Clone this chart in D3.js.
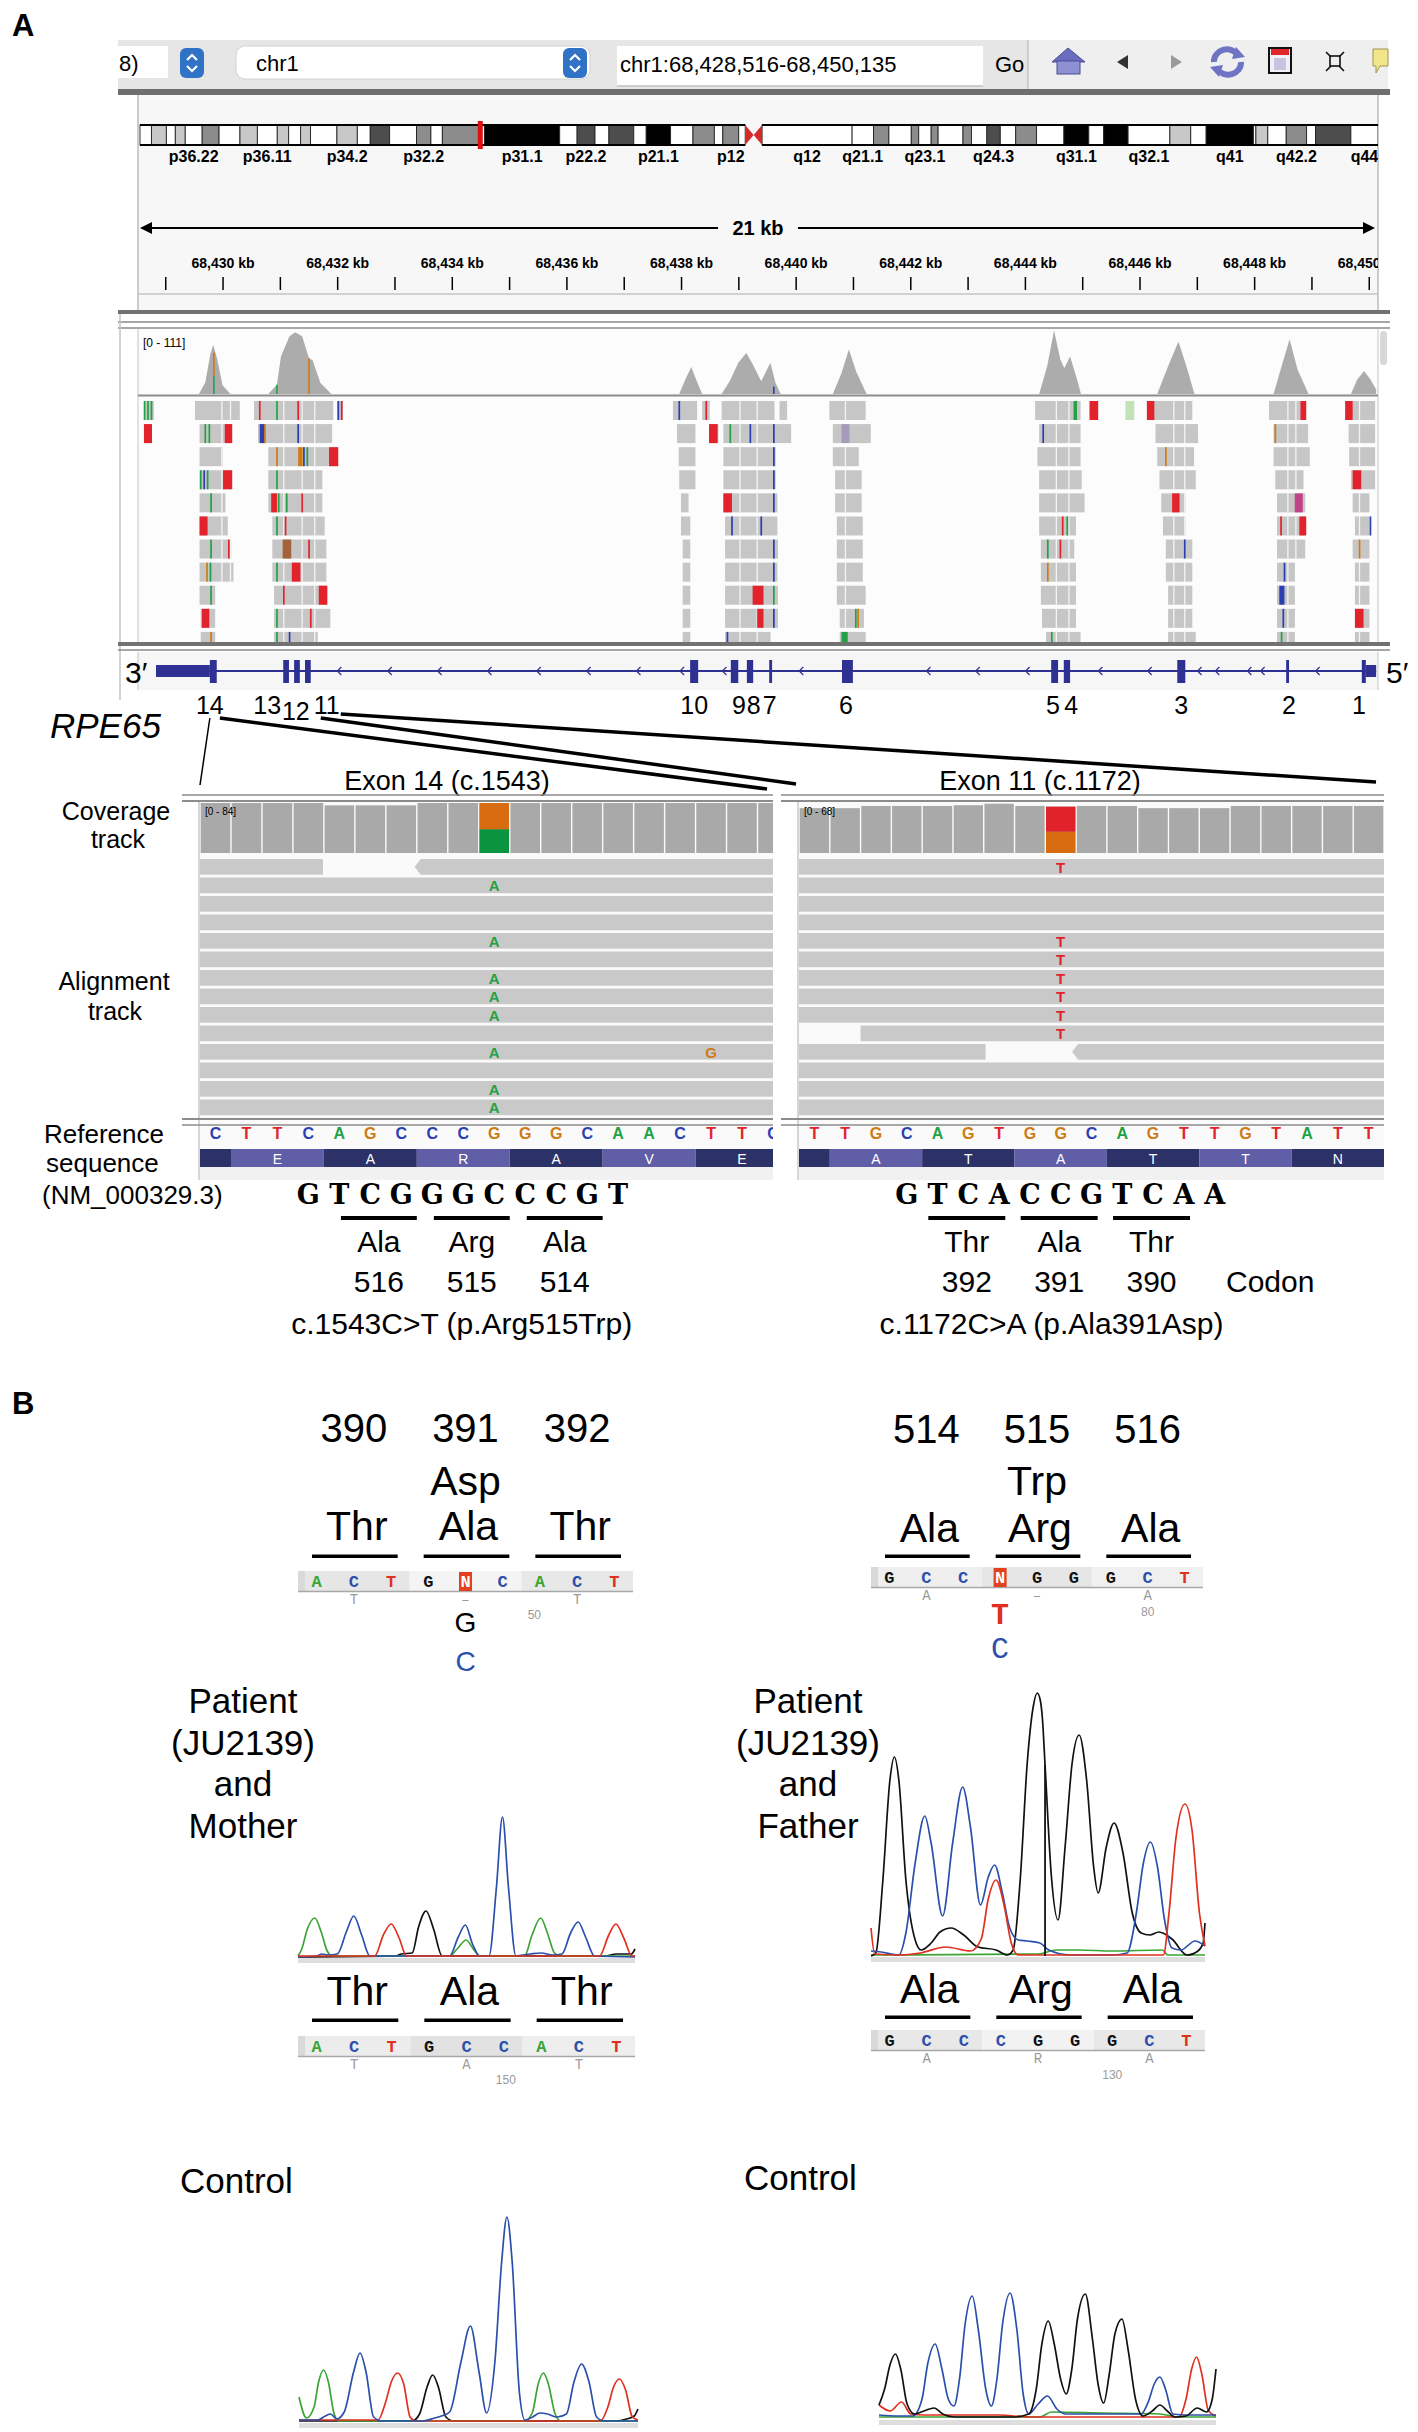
<!DOCTYPE html>
<html>
<head>
<meta charset="utf-8">
<title>RPE65 variants</title>
<script src="https://d3js.org/d3.v7.min.js"></script>
<style>
  body { margin: 0; background: #fff; }
  svg text { font-family: "Liberation Sans", Arial, sans-serif; }
</style>
</head>
<body>
<svg id="fig"></svg>
<script>
// Define figure dimensions
var svgWidth = 1418;
var svgHeight = 2432;

// ---------- IGV locus (kb) ----------
var locusStart = 68428.516;
var locusEnd = 68450.135;
var locusText = "chr1:68,428,516-68,450,135";
var rulerLabels = [68430, 68432, 68434, 68436, 68438, 68440, 68442, 68444, 68446, 68448, 68450];
var rulerTicks = [68429, 68430, 68431, 68432, 68433, 68434, 68435, 68436, 68437, 68438, 68439,
  68440, 68441, 68442, 68443, 68444, 68445, 68446, 68447, 68448, 68449, 68450];

// chr1 cytobands [name, start Mb, end Mb, stain]
var chr1Length = 248.956;
var cytobands = [
  ["p36.33",0,2.3,"gneg"],["p36.32",2.3,5.3,"gpos25"],["p36.31",5.3,7.1,"gneg"],["p36.23",7.1,9.1,"gpos25"],
  ["p36.22",9.1,12.5,"gneg"],["p36.21",12.5,15.9,"gpos50"],["p36.13",15.9,20.1,"gneg"],["p36.12",20.1,23.6,"gpos25"],
  ["p36.11",23.6,27.6,"gneg"],["p35.3",27.6,29.9,"gpos25"],["p35.2",29.9,32.3,"gneg"],["p35.1",32.3,34.3,"gpos25"],
  ["p34.3",34.3,39.6,"gneg"],["p34.2",39.6,43.7,"gpos25"],["p34.1",43.7,46.3,"gneg"],["p33",46.3,50.2,"gpos75"],
  ["p32.3",50.2,55.6,"gneg"],["p32.2",55.6,58.5,"gpos50"],["p32.1",58.5,60.8,"gneg"],["p31.3",60.8,68.5,"gpos50"],
  ["p31.2",68.5,69.3,"gneg"],["p31.1",69.3,84.4,"gpos100"],["p22.3",84.4,87.9,"gneg"],["p22.2",87.9,91.5,"gpos75"],
  ["p22.1",91.5,94.3,"gneg"],["p21.3",94.3,99.3,"gpos75"],["p21.2",99.3,101.8,"gneg"],["p21.1",101.8,106.7,"gpos100"],
  ["p13.3",106.7,111.2,"gneg"],["p13.2",111.2,115.5,"gpos50"],["p13.1",115.5,117.2,"gneg"],["p12",117.2,120.4,"gpos50"],
  ["p11.2",120.4,121.7,"gneg"],["p11.1",121.7,123.4,"acen"],["q11",123.4,125.1,"acen"],["q12",125.1,143.2,"gvar"],
  ["q21.1",143.2,147.5,"gneg"],["q21.2",147.5,150.6,"gpos50"],["q21.3",150.6,155.1,"gneg"],["q22",155.1,156.6,"gpos50"],
  ["q23.1",156.6,159.1,"gneg"],["q23.2",159.1,160.5,"gpos50"],["q23.3",160.5,165.5,"gneg"],["q24.1",165.5,167.2,"gpos50"],
  ["q24.2",167.2,170.3,"gneg"],["q24.3",170.3,173.0,"gpos75"],["q25.1",173.0,176.1,"gneg"],["q25.2",176.1,180.3,"gpos50"],
  ["q25.3",180.3,185.8,"gneg"],["q31.1",185.8,190.8,"gpos100"],["q31.2",190.8,193.8,"gneg"],["q31.3",193.8,198.7,"gpos100"],
  ["q32.1",198.7,207.1,"gneg"],["q32.2",207.1,211.3,"gpos25"],["q32.3",211.3,214.4,"gneg"],["q41",214.4,223.9,"gpos100"],
  ["q42.11",223.9,224.4,"gneg"],["q42.12",224.4,226.8,"gpos25"],["q42.13",226.8,230.5,"gneg"],["q42.2",230.5,234.6,"gpos50"],
  ["q42.3",234.6,236.4,"gneg"],["q43",236.4,243.5,"gpos75"],["q44",243.5,248.956,"gneg"]
];
var bandLabels = ["p36.22","p36.11","p34.2","p32.2","p31.1","p22.2","p21.1","p12","q12","q21.1",
  "q23.1","q24.3","q31.1","q32.1","q41","q42.2","q44"];

// coverage track peaks [kb, depth]
var coverageMax = 111;
var coveragePeaks = [
  [[68429.58,0],[68429.69,20],[68429.78,70],[68429.83,85],[68429.90,60],[68429.99,15],[68430.13,0]],
  [[68430.79,0],[68430.94,16],[68431.01,65],[68431.16,100],[68431.26,107],[68431.38,100],[68431.50,62],[68431.56,59],[68431.70,19],[68431.89,0]],
  [[68437.96,0],[68438.07,26],[68438.17,47],[68438.26,24],[68438.36,0]],
  [[68438.70,0],[68438.84,22],[68438.99,54],[68439.13,71],[68439.24,52],[68439.39,22],[68439.55,54],[68439.64,19],[68439.73,0]],
  [[68440.64,0],[68440.79,36],[68440.92,77],[68441.05,38],[68441.23,0]],
  [[68444.24,0],[68444.38,48],[68444.50,110],[68444.61,60],[68444.68,45],[68444.78,65],[68444.90,26],[68444.97,0]],
  [[68446.30,0],[68446.49,48],[68446.67,91],[68446.81,48],[68446.95,0]],
  [[68448.33,0],[68448.47,48],[68448.61,95],[68448.75,42],[68448.94,0]],
  [[68449.68,0],[68449.79,25],[68449.91,40],[68450.02,25],[68450.12,8]]
];
// allele-coloured coverage lines [kb, base, fromDepth, toDepth]
var coverageAlleles = [[68429.84,"G",72,31],[68429.84,"A",31,0],[68430.94,"A",16,0],[68431.50,"G",62,0],[68439.61,"C",13,0]];

// alignment rows: read blocks [startKb, endKb]
var readRows = [
  [[68428.62,68428.81],[68429.51,68430.31],[68430.54,68431.94],[68431.99,68432.11],[68437.85,68438.29],[68438.36,68438.51],[68438.70,68439.64],[68439.71,68439.86],[68440.58,68441.23],[68444.17,68444.98],[68445.12,68445.27],[68445.75,68445.90],[68446.12,68446.93],[68448.25,68448.90],[68449.58,68450.12]],
  [[68428.62,68428.76],[68429.59,68430.16],[68430.61,68431.92],[68437.92,68438.26],[68438.48,68438.66],[68438.73,68439.93],[68440.64,68441.32],[68444.24,68444.98],[68446.27,68447.03],[68448.33,68448.95],[68449.64,68450.12]],
  [[68429.59,68430.01],[68430.79,68432.01],[68437.95,68438.26],[68438.73,68439.66],[68440.64,68441.11],[68444.21,68444.98],[68446.30,68446.96],[68448.33,68448.98],[68449.65,68450.12]],
  [[68429.59,68430.16],[68430.79,68431.75],[68437.96,68438.26],[68438.73,68439.66],[68440.68,68441.16],[68444.24,68445.00],[68446.34,68446.99],[68448.36,68448.87],[68449.68,68450.12]],
  [[68429.59,68430.06],[68430.79,68431.75],[68437.99,68438.14],[68438.73,68439.69],[68440.68,68441.16],[68444.24,68445.05],[68446.37,68446.81],[68448.39,68448.90],[68449.71,68450.02]],
  [[68429.59,68430.10],[68430.86,68431.79],[68437.99,68438.17],[68438.76,68439.69],[68440.71,68441.18],[68444.24,68444.90],[68446.40,68446.81],[68448.39,68448.90],[68449.75,68450.02]],
  [[68429.59,68430.16],[68430.86,68431.82],[68438.02,68438.17],[68438.76,68439.70],[68440.71,68441.18],[68444.27,68444.87],[68446.45,68446.93],[68448.39,68448.90],[68449.71,68450.02]],
  [[68429.59,68430.20],[68430.86,68431.82],[68438.02,68438.17],[68438.76,68439.69],[68440.71,68441.18],[68444.27,68444.90],[68446.45,68446.93],[68448.39,68448.72],[68449.75,68450.02]],
  [[68429.59,68429.88],[68430.89,68431.82],[68438.02,68438.17],[68438.76,68439.70],[68440.71,68441.23],[68444.27,68444.90],[68446.49,68446.93],[68448.39,68448.72],[68449.75,68450.02]],
  [[68429.61,68429.88],[68430.89,68431.89],[68438.02,68438.17],[68438.76,68439.70],[68440.76,68441.20],[68444.29,68444.90],[68446.49,68446.93],[68448.39,68448.72],[68449.75,68450.02]],
  [[68429.61,68429.88],[68430.89,68431.67],[68438.02,68438.17],[68438.76,68439.57],[68440.76,68441.23],[68444.36,68444.98],[68446.49,68446.99],[68448.39,68448.72],[68449.75,68450.02]]
];
var readSeparators = [68429.98, 68430.13, 68431.06, 68431.38, 68431.60, 68439.02, 68439.32, 68440.86,
  68444.54, 68444.76, 68446.59, 68446.78, 68448.58, 68448.72, 68449.83];
// mismatches [row, startKb, endKb (null = single base), base]
var readMismatches = [
  [0,68428.63,null,"A"],[0,68428.69,null,"A"],[0,68428.75,null,"A"],[0,68430.64,null,"T"],[0,68430.94,null,"A"],
  [0,68431.31,null,"T"],[0,68432.01,null,"C"],[0,68432.07,null,"T"],[0,68437.96,null,"C"],[0,68438.43,null,"T"],
  [0,68444.84,68444.90,"A"],[0,68445.12,68445.27,"T"],[0,68445.75,68445.90,"a"],[0,68446.12,68446.25,"T"],
  [0,68448.80,68448.90,"T"],[0,68449.58,68449.71,"T"],
  [1,68428.62,68428.76,"T"],[1,68429.69,null,"A"],[1,68429.76,null,"A"],[1,68430.03,68430.16,"T"],[1,68430.64,68430.73,"C"],
  [1,68430.73,null,"G"],[1,68431.31,null,"C"],[1,68438.48,68438.63,"T"],[1,68438.85,null,"A"],[1,68439.20,null,"C"],
  [1,68439.61,null,"C"],[1,68440.79,68440.93,"c"],[1,68444.31,null,"C"],[1,68448.36,null,"G"],
  [2,68430.94,null,"G"],[2,68431.31,68431.39,"G"],[2,68431.41,null,"C"],[2,68431.47,null,"A"],[2,68431.85,68432.01,"T"],
  [2,68439.61,null,"C"],[2,68446.45,null,"G"],
  [3,68429.61,null,"A"],[3,68429.67,null,"C"],[3,68429.73,null,"A"],[3,68430.00,68430.16,"T"],[3,68430.94,null,"A"],
  [3,68439.61,null,"C"],[3,68449.71,68449.86,"T"],
  [4,68429.79,null,"A"],[4,68430.84,68430.94,"T"],[4,68430.97,null,"A"],[4,68431.11,null,"A"],[4,68431.38,null,"T"],
  [4,68438.73,68438.88,"T"],[4,68439.61,null,"C"],[4,68446.56,68446.69,"T"],[4,68448.70,68448.84,"m"],
  [5,68429.59,68429.73,"T"],[5,68430.94,null,"A"],[5,68431.09,null,"T"],[5,68438.88,null,"C"],[5,68439.39,null,"C"],
  [5,68444.65,null,"T"],[5,68444.73,null,"A"],[5,68448.46,null,"T"],[5,68448.78,68448.90,"T"],[5,68450.02,null,"C"],
  [6,68429.79,null,"A"],[6,68430.10,null,"T"],[6,68431.04,68431.19,"g"],[6,68431.50,null,"T"],[6,68439.61,null,"C"],
  [6,68444.39,null,"A"],[6,68444.61,null,"T"],[6,68446.78,null,"C"],[6,68449.83,null,"G"],
  [7,68429.72,null,"G"],[7,68429.78,null,"A"],[7,68430.94,null,"A"],[7,68431.20,68431.35,"T"],[7,68439.61,null,"C"],
  [7,68444.39,null,"G"],[7,68448.52,null,"C"],
  [8,68429.79,null,"A"],[8,68431.06,null,"T"],[8,68431.67,68431.82,"T"],[8,68439.24,68439.43,"T"],[8,68439.61,null,"A"],
  [8,68448.43,68448.52,"C"],
  [9,68429.63,68429.76,"T"],[9,68430.94,null,"A"],[9,68431.53,null,"T"],[9,68439.32,68439.43,"T"],[9,68439.61,null,"C"],
  [9,68441.04,null,"A"],[9,68441.08,null,"G"],[9,68448.50,null,"C"],[9,68449.75,68449.90,"T"],
  [10,68429.79,null,"G"],[10,68430.94,null,"A"],[10,68431.16,null,"C"],[10,68438.80,null,"C"],[10,68440.79,68440.90,"A"],
  [10,68444.46,null,"A"],[10,68448.47,null,"A"]
];

// RPE65 gene model [label, startKb, endKb, type]
var exons = [
  ["3'UTR",68428.83,68429.77,"utr"],["14",68429.77,68429.89,"cds"],["13",68431.05,68431.15,"cds"],
  ["12",68431.24,68431.34,"cds"],["11",68431.43,68431.53,"cds"],["10",68438.15,68438.29,"cds"],
  ["9",68438.86,68438.99,"cds"],["8",68439.14,68439.25,"cds"],["7",68439.53,68439.58,"cds"],
  ["6",68440.80,68440.99,"cds"],["5",68444.45,68444.57,"cds"],["4",68444.67,68444.78,"cds"],
  ["3",68446.65,68446.79,"cds"],["2",68448.55,68448.60,"cds"],["1",68449.87,68449.94,"cds"],
  ["5'UTR",68449.94,68450.12,"utr"]
];
var exonLabels = ["14","13","12","11","10","9","8","7","6","5","4","3","2","1"];
var exonLabelPos = [68429.77,68430.77,68431.27,68431.81,68438.22,68439.00,68439.26,68439.54,68440.87,
  68444.48,68444.80,68446.72,68448.60,68449.82];
var intronArrows = [68432.02,68432.90,68433.77,68434.64,68435.50,68436.37,68437.24,68438.00,68438.74,
  68440.08,68442.30,68443.16,68444.03,68445.30,68446.16,68447.03,68447.34,68447.90,68448.13,68449.09];

// ---------- zoomed IGV panels (base index units) ----------
var exon14Ref = "CTTCAGCCCGGGCAACTTC";
var exon14AA = ["E","A","R","A","V","E"];
var exon14Cov = [84,84,84,84,80,80,80,84,84,84,84,84,84,84,84,84,84,84,84];
var exon14MutIdx = 9;
var exon14MutSplit = [["G",44],["A",40]];
var exon14Reads = [[[0,3.97,0],[6.93,18.5,1]]];
var exon14Letters = [[1,9,"A"],[4,9,"A"],[6,9,"A"],[7,9,"A"],[8,9,"A"],[10,9,"A"],[10,16,"G"],[12,9,"A"],[13,9,"A"]];

var exon11Ref = "TTGCAGTGGCAGTTGTATT";
var exon11AA = ["A","T","A","T","T","N"];
var exon11Cov = [61,61,64,64,64,65,67,64,63,64,64,61,61,61,64,64,64,64,64];
var exon11MutIdx = 8;
var exon11MutSplit = [["T",34],["G",29]];
var exon11Letters = [[0,8,"T"],[4,8,"T"],[5,8,"T"],[6,8,"T"],[7,8,"T"],[8,8,"T"],[9,8,"T"]];

var exon14Comp = "GTCGGGCCCGT";
var exon14AANames = ["Ala","Arg","Ala"];
var exon14Codons = ["516","515","514"];
var exon14Hgvs = "c.1543C>T (p.Arg515Trp)";
var exon11Comp = "GTCACCGTCAA";
var exon11AANames = ["Thr","Ala","Thr"];
var exon11Codons = ["392","391","390"];
var exon11Hgvs = "c.1172C>A (p.Ala391Asp)";

// ---------- Sanger panels ----------
var c391Nums = ["390","391","392"];
var c391AA = ["Thr","Ala","Thr"];
var c391Alt = "Asp";
var c391Strip = "ACTGNCACT";
var c391Under = ["","T","","","\u2013","","","T",""];
var c391Alleles = ["G","C"];
var c515Nums = ["514","515","516"];
var c515AA = ["Ala","Arg","Ala"];
var c515Alt = "Trp";
var c515Strip = "GCCNGGGCT";
var c515Under = ["","A","","","\u2013","","","A",""];
var c515Alleles = ["T","C"];

var motherStrip = "ACTGCCACT";
var motherUnder = ["","T","","","A","","","T",""];
var fatherStrip = "GCCCGGGCT";
var fatherUnder = ["","A","","","R","","","A",""];

// chromatogram traces [base position, signal]
var motherA = [[0,1],[0.1,8],[0.25,28],[0.45,39],[0.62,25],[0.78,6],[0.92,1],[4.05,1],[4.25,8],[4.49,17],[4.7,7],[4.85,1],[6.05,1],[6.25,22],[6.48,39],[6.66,24],[6.85,4],[7.0,1],[9,1]];
var motherC = [[0,0],[0.5,1],[0.64,3],[0.8,2],[1.05,3],[1.3,26],[1.49,41],[1.7,22],[1.92,1],[4.05,1],[4.28,20],[4.47,32],[4.66,13],[4.85,1],[5.1,1],[5.3,70],[5.46,140],[5.62,70],[5.82,1],[6.2,3],[6.5,4],[6.8,2],[7.05,3],[7.28,24],[7.48,35],[7.68,20],[7.92,1],[9,0]];
var motherT = [[0,1],[2.05,1],[2.28,22],[2.49,33],[2.7,19],[2.9,1],[8.05,1],[8.3,22],[8.49,33],[8.7,19],[8.92,1],[9,1]];
var motherG = [[0,0],[2.6,1],[2.76,3],[3.05,4],[3.22,30],[3.42,46],[3.62,28],[3.85,1],[8.2,1],[8.5,3],[8.9,3],[9,8]];

var fatherG = [[0,0],[0.13,3],[0.32,76],[0.51,176],[0.63,199],[0.75,176],[0.94,76],[1.19,16],[1.35,6],[1.62,13],[1.86,24],[2.16,28],[2.5,21],[2.88,9],[3.37,6],[3.67,1],[3.83,6],[4.02,76],[4.21,193],[4.37,249],[4.48,263],[4.56,256],[4.62,237],[4.69,191],[4.86,80],[5.04,36],[5.23,109],[5.42,193],[5.61,221],[5.81,176],[6.0,89],[6.12,63],[6.34,109],[6.55,133],[6.79,103],[7.04,43],[7.28,23],[7.51,21],[7.76,24],[8.11,17],[8.52,1],[8.81,5],[8.95,13],[9,33]];
var fatherC = [[0,5],[0.27,4],[0.75,1],[0.94,23],[1.19,93],[1.45,140],[1.62,113],[1.93,40],[2.2,113],[2.47,169],[2.68,129],[2.95,51],[3.16,79],[3.33,91],[3.54,63],[3.73,29],[3.97,16],[4.21,15],[4.55,13],[4.79,6],[5.37,1],[6.04,1],[6.52,1],[6.9,3],[7.15,43],[7.34,93],[7.53,114],[7.72,89],[7.91,36],[8.11,8],[8.35,6],[8.73,15],[9,10]];
var fatherT = [[0,28],[0.1,2],[0.75,1],[1.33,3],[2.02,9],[2.68,5],[2.97,17],[3.16,57],[3.37,76],[3.59,50],[3.78,13],[3.97,1],[7.88,1],[8.03,43],[8.22,119],[8.46,152],[8.65,126],[8.85,43],[9,10]];
var fatherA = [[0,1],[4.5,2],[5.0,6],[5.6,6],[6.5,5],[7.85,6],[8.0,1],[9,1]];
var fatherCursor = [4.69, 191];

var controlLA = [[0,25],[0.2,4],[0.4,15],[0.52,40],[0.65,52],[0.78,40],[0.92,10],[1.05,1],[6.0,1],[6.2,10],[6.35,38],[6.49,49],[6.62,38],[6.8,8],[6.95,1],[9,1]];
var controlLC = [[0,2],[0.5,2],[0.7,6],[0.84,8],[1.0,3],[1.2,10],[1.45,50],[1.62,69],[1.78,50],[1.98,5],[2.2,1],[3.3,1],[3.6,4],[3.78,6],[4.0,10],[4.3,60],[4.55,96],[4.78,50],[4.98,9],[5.2,60],[5.38,160],[5.52,205],[5.66,160],[5.85,30],[6.0,2],[6.2,5],[6.4,9],[6.6,8],[6.85,5],[7.1,8],[7.3,40],[7.5,58],[7.7,40],[7.9,5],[8.1,1],[9,1]];
var controlLT = [[0,2],[2.1,2],[2.3,20],[2.45,40],[2.62,49],[2.78,38],[2.95,5],[3.1,1],[8.0,1],[8.2,15],[8.35,35],[8.51,43],[8.67,32],[8.85,5],[9,2]];
var controlLG = [[0,1],[3.0,1],[3.2,8],[3.4,35],[3.55,47],[3.7,35],[3.9,5],[4.1,1],[8.4,1],[8.7,3],[8.9,6],[9,13]];

var controlRG = [[0,14],[0.15,30],[0.3,55],[0.44,65],[0.58,50],[0.75,15],[0.95,5],[1.2,8],[1.47,11],[1.7,5],[2.0,2],[3.6,2],[4.0,5],[4.2,30],[4.35,75],[4.52,98],[4.68,75],[4.85,40],[5.0,25],[5.15,50],[5.3,100],[5.51,125],[5.7,80],[5.85,35],[6.0,16],[6.15,45],[6.3,85],[6.49,100],[6.65,70],[6.85,20],[7.05,3],[7.3,8],[7.5,14],[7.7,8],[7.9,2],[8.2,3],[8.5,11],[8.75,7],[8.9,20],[9,50]];
var controlRC = [[0,4],[0.5,3],[0.9,3],[1.15,20],[1.3,55],[1.5,75],[1.68,50],[1.85,20],[2.0,13],[2.15,40],[2.3,95],[2.49,123],[2.65,90],[2.85,30],[3.0,13],[3.15,40],[3.3,95],[3.5,126],[3.68,90],[3.85,25],[4.0,5],[4.25,15],[4.5,23],[4.75,10],[5.0,5],[7.0,5],[7.2,18],[7.35,35],[7.5,42],[7.65,30],[7.85,5],[8.2,4],[9,4]];
var controlRT = [[0,14],[0.3,8],[0.6,17],[0.85,5],[1.2,4],[3.2,4],[4.0,2],[8.0,2],[8.2,20],[8.35,50],[8.48,62],[8.62,45],[8.8,8],[9,3]];
var controlRA = [[0,2],[4.3,2],[4.6,7],[6.0,6],[7.5,5],[8.0,2],[9,2]];

// ---------- colours ----------
var igvColor = {A:"#22a244", C:"#2b3fb3", G:"#cf7a15", T:"#e2232b", a:"#c2e2b8", c:"#a59cbc", g:"#a3623a", m:"#c2428a"};
var sangerColor = {A:"#3aa535", C:"#2b4fab", G:"#111111", T:"#e0301e"};
var stainColor = {gneg:"#ffffff", gvar:"#ffffff", gpos25:"#c8c8c8", gpos50:"#8c8c8c", gpos75:"#4d4d4d", gpos100:"#000000"};

// ---------- svg ----------
var svg = d3.select("#fig").attr("width", svgWidth).attr("height", svgHeight);
svg.append("rect").attr("width", svgWidth).attr("height", svgHeight).attr("fill", "#fff");
var defs = svg.append("defs");

function addText(parent, x, y, s, size, opts) {
  opts = opts || {};
  var t = parent.append("text").attr("x", x).attr("y", y)
    .attr("font-size", size)
    .attr("text-anchor", opts.anchor || "start")
    .attr("font-weight", opts.weight || "normal")
    .attr("font-style", opts.style || "normal")
    .attr("fill", opts.fill || "#000")
    .text(s);
  if (opts.family) t.style("font-family", opts.family);
  return t;
}
function hline(parent, x1, x2, y, color, w) {
  return parent.append("line").attr("x1", x1).attr("x2", x2).attr("y1", y).attr("y2", y)
    .attr("stroke", color).attr("stroke-width", w);
}
function vline(parent, x, y1, y2, color, w) {
  return parent.append("line").attr("x1", x).attr("x2", x).attr("y1", y1).attr("y2", y2)
    .attr("stroke", color).attr("stroke-width", w);
}
function clip(id, x, y, w, h) {
  defs.append("clipPath").attr("id", id).append("rect").attr("x", x).attr("y", y).attr("width", w).attr("height", h);
  return "url(#" + id + ")";
}

addText(svg, 12, 36, "A", 31, {weight: "bold"});
addText(svg, 12, 1414, "B", 31, {weight: "bold"});

// ---------- IGV toolbar ----------
var tb = svg.append("g");
tb.append("rect").attr("x", 118).attr("y", 40).attr("width", 910).attr("height", 50).attr("fill", "#e6e6e6");
tb.append("rect").attr("x", 1028).attr("y", 40).attr("width", 360).attr("height", 50).attr("fill", "#efefef");
vline(tb, 1028, 40, 90, "#c4c4c4", 1.5);
tb.append("rect").attr("x", 118).attr("y", 46).attr("width", 50).attr("height", 32).attr("fill", "#fff");
addText(tb, 119, 71, "8)", 22);
function spinner(x, y) {
  tb.append("rect").attr("x", x).attr("y", y).attr("width", 24).attr("height", 30).attr("rx", 6).attr("fill", "#2f72c6");
  tb.append("polyline").attr("points", [[x+7,y+12],[x+12,y+7],[x+17,y+12]].join(" "))
    .attr("fill", "none").attr("stroke", "#fff").attr("stroke-width", 2.2);
  tb.append("polyline").attr("points", [[x+7,y+18],[x+12,y+23],[x+17,y+18]].join(" "))
    .attr("fill", "none").attr("stroke", "#fff").attr("stroke-width", 2.2);
}
spinner(180, 48);
tb.append("rect").attr("x", 236).attr("y", 46).attr("width", 354).attr("height", 33).attr("rx", 9)
  .attr("fill", "#fff").attr("stroke", "#d2d2d2");
addText(tb, 256, 71, "chr1", 22);
spinner(563, 48);
tb.append("rect").attr("x", 617).attr("y", 46).attr("width", 366).attr("height", 40).attr("fill", "#fff");
hline(tb, 617, 983, 86, "#c0c0c0", 1.5);
addText(tb, 620, 72, locusText, 22);
addText(tb, 995, 72, "Go", 22);
// icons
tb.append("polygon").attr("points", "1052,62 1068,48 1085,62").attr("fill", "#6a6cc0").attr("stroke", "#4b4d94");
tb.append("rect").attr("x", 1057).attr("y", 61).attr("width", 23).attr("height", 13).attr("fill", "#8e90d4").attr("stroke", "#4b4d94");
tb.append("polygon").attr("points", "1117,62 1128,55 1128,69").attr("fill", "#333");
tb.append("polygon").attr("points", "1182,62 1171,55 1171,69").attr("fill", "#999");
tb.append("path").attr("d", "M1214,62 A13,12 0 0 1 1238,55").attr("fill", "none").attr("stroke", "#6f73c4").attr("stroke-width", 6);
tb.append("path").attr("d", "M1241,62 A13,12 0 0 1 1217,69").attr("fill", "none").attr("stroke", "#6f73c4").attr("stroke-width", 6);
tb.append("polygon").attr("points", "1236,47 1245,57 1232,59").attr("fill", "#6f73c4");
tb.append("polygon").attr("points", "1219,77 1210,67 1223,65").attr("fill", "#6f73c4");
tb.append("rect").attr("x", 1269).attr("y", 48).attr("width", 22).attr("height", 25).attr("fill", "#f1eef5").attr("stroke", "#111").attr("stroke-width", 2);
tb.append("rect").attr("x", 1271).attr("y", 49).attr("width", 18).attr("height", 6).attr("fill", "#e0252b");
tb.append("rect").attr("x", 1274).attr("y", 58).attr("width", 12).attr("height", 12).attr("fill", "#c8c4e0");
tb.append("rect").attr("x", 1330).attr("y", 56).attr("width", 10).attr("height", 10).attr("fill", "none").attr("stroke", "#111").attr("stroke-width", 1.6);
tb.append("path").attr("d", "M1326,52 L1331,57 M1344,52 L1339,57 M1326,71 L1331,66 M1344,71 L1339,66")
  .attr("stroke", "#111").attr("stroke-width", 1.6);
tb.append("polygon").attr("points", "1373,49 1388,49 1388,66 1380,66 1376,73 1376,66 1373,66")
  .attr("fill", "#f2e58a").attr("stroke", "#9d9550");
tb.append("rect").attr("x", 118).attr("y", 89).attr("width", 1272).attr("height", 6).attr("fill", "#6e6e6e");

// ---------- ideogram + ruler panel ----------
var gx = d3.scaleLinear().domain([locusStart, locusEnd]).range([138, 1377]);
var cx = d3.scaleLinear().domain([0, chr1Length]).range([140, 1378]);
var ideo = svg.append("g");
ideo.append("rect").attr("x", 138).attr("y", 95).attr("width", 1240).attr("height", 216).attr("fill", "#f7f7f7");
vline(ideo, 138, 95, 311, "#bcbcbc", 1.5);
vline(ideo, 1378, 95, 311, "#bcbcbc", 1.5);
var ideoClip = clip("ideoClip", 138, 95, 1240, 216);
var bandsG = ideo.append("g").attr("clip-path", ideoClip);
var bandY = 125, bandH = 20;
bandsG.selectAll("rect.band").data(cytobands.filter(function(b) { return b[3] !== "acen"; }))
  .enter().append("rect").attr("class", "band")
  .attr("x", function(b) { return cx(b[1]); })
  .attr("width", function(b) { return cx(b[2]) - cx(b[1]); })
  .attr("y", bandY).attr("height", bandH)
  .attr("fill", function(b) { return stainColor[b[3]]; })
  .attr("stroke", "#222").attr("stroke-width", 0.9);
hline(bandsG, cx(0), cx(cytobands[33][1]), bandY, "#000", 2);
hline(bandsG, cx(0), cx(cytobands[33][1]), bandY + bandH, "#000", 2);
hline(bandsG, cx(cytobands[34][2]), cx(chr1Length), bandY, "#000", 2);
hline(bandsG, cx(cytobands[34][2]), cx(chr1Length), bandY + bandH, "#000", 2);
// centromere
var cenA = cx(cytobands[33][1]), cenM = cx(cytobands[33][2]), cenB = cx(cytobands[34][2]);
bandsG.append("polygon").attr("points", [[cenA, bandY], [cenM, bandY + bandH / 2], [cenA, bandY + bandH]].join(" ")).attr("fill", "#d42a2a");
bandsG.append("polygon").attr("points", [[cenB, bandY], [cenM, bandY + bandH / 2], [cenB, bandY + bandH]].join(" ")).attr("fill", "#d42a2a");
// current locus marker
bandsG.append("rect").attr("x", cx(locusStart / 1000) - 2.5).attr("y", bandY - 4).attr("width", 5).attr("height", bandH + 8).attr("fill", "#e01010");
bandsG.selectAll("text.bandlab").data(cytobands.filter(function(b) { return bandLabels.indexOf(b[0]) >= 0; }))
  .enter().append("text").attr("class", "bandlab")
  .attr("x", function(b) { return cx((b[1] + b[2]) / 2); })
  .attr("y", 162).attr("text-anchor", "middle").attr("font-size", 16).attr("font-weight", "bold")
  .text(function(b) { return b[0]; });

// span arrow
var spanY = 228;
hline(ideo, gx(locusStart) + 6, gx(locusEnd) - 6, spanY, "#000", 2);
ideo.append("polygon").attr("points", [[gx(locusStart) + 2, spanY], [gx(locusStart) + 14, spanY - 6], [gx(locusStart) + 14, spanY + 6]].join(" "));
ideo.append("polygon").attr("points", [[gx(locusEnd) - 2, spanY], [gx(locusEnd) - 14, spanY - 6], [gx(locusEnd) - 14, spanY + 6]].join(" "));
ideo.append("rect").attr("x", 718).attr("y", spanY - 14).attr("width", 80).attr("height", 28).attr("fill", "#f7f7f7");
addText(ideo, 758, spanY + 7, Math.floor(locusEnd - locusStart) + " kb", 20, {anchor: "middle", weight: "bold"});

// ruler
var rulerG = ideo.append("g").attr("clip-path", ideoClip);
rulerG.selectAll("line.tick").data(rulerTicks).enter().append("line").attr("class", "tick")
  .attr("x1", gx).attr("x2", gx).attr("y1", 277).attr("y2", 290).attr("stroke", "#000").attr("stroke-width", 1.5);
rulerG.selectAll("text.tick").data(rulerLabels).enter().append("text").attr("class", "tick")
  .attr("x", gx).attr("y", 268).attr("text-anchor", "middle").attr("font-size", 14).attr("font-weight", "bold")
  .text(function(d) { return d3.format(",")(d) + " kb"; });
hline(ideo, 138, 1378, 294, "#c4c4c4", 1.5);
svg.append("rect").attr("x", 118).attr("y", 310).attr("width", 1272).attr("height", 4).attr("fill", "#727272");
hline(svg, 118, 1390, 322, "#8a8a8a", 1.6);
hline(svg, 118, 1390, 328, "#8a8a8a", 1.6);

// ---------- coverage + alignments ----------
var dataG = svg.append("g");
dataG.append("rect").attr("x", 138).attr("y", 329).attr("width", 1240).attr("height", 314).attr("fill", "#fcfcfc");
vline(dataG, 120, 314, 700, "#c4c4c4", 1.5);
vline(dataG, 138, 329, 643, "#cfcfcf", 1.2);
vline(dataG, 1378, 329, 643, "#cfcfcf", 1.2);
dataG.append("rect").attr("x", 1380).attr("y", 331).attr("width", 7).attr("height", 34).attr("rx", 3.5).attr("fill", "#d8d8d8");
var covY = d3.scaleLinear().domain([0, coverageMax]).range([394, 330]);
var covArea = d3.area().x(function(d) { return gx(d[0]); }).y0(covY(0)).y1(function(d) { return covY(d[1]); });
var dataClip = clip("dataClip", 138, 329, 1240, 314);
var covG = dataG.append("g").attr("clip-path", dataClip);
covG.selectAll("path.cov").data(coveragePeaks).enter().append("path").attr("class", "cov")
  .attr("d", covArea).attr("fill", "#acacac");
covG.selectAll("line.allele").data(coverageAlleles).enter().append("line").attr("class", "allele")
  .attr("x1", function(d) { return gx(d[0]); }).attr("x2", function(d) { return gx(d[0]); })
  .attr("y1", function(d) { return covY(d[2]); }).attr("y2", function(d) { return covY(d[3]); })
  .attr("stroke", function(d) { return igvColor[d[1]]; }).attr("stroke-width", 1.6);
addText(dataG, 143, 347, "[0 - " + coverageMax + "]", 12);
hline(dataG, 138, 1378, 395.5, "#8c8c8c", 2.2);

var rowY = d3.scaleLinear().domain([0, 11]).range([401, 655]);
var readH = 19;
var readsG = dataG.append("g").attr("clip-path", clip("readClip", 138, 398, 1240, 245));
readRows.forEach(function(row, i) {
  var g = readsG.append("g");
  g.selectAll("rect").data(row).enter().append("rect")
    .attr("x", function(d) { return gx(d[0]); })
    .attr("width", function(d) { return Math.max(1, gx(d[1]) - gx(d[0]) - 1); })
    .attr("y", rowY(i)).attr("height", readH).attr("fill", "#c6c6c6");
  readSeparators.forEach(function(s) {
    var inside = row.some(function(d) { return s > d[0] + 0.02 && s < d[1] - 0.02; });
    if (inside) vline(g, gx(s), rowY(i), rowY(i) + readH, "#f4f4f4", 1.3);
  });
});
readsG.selectAll("rect.mm").data(readMismatches).enter().append("rect").attr("class", "mm")
  .attr("x", function(d) { return d[2] === null ? gx(d[1]) - 0.8 : gx(d[1]); })
  .attr("width", function(d) { return d[2] === null ? 1.7 : gx(d[2]) - gx(d[1]); })
  .attr("y", function(d) { return rowY(d[0]); }).attr("height", readH)
  .attr("fill", function(d) { return igvColor[d[3]]; });
svg.append("rect").attr("x", 118).attr("y", 642).attr("width", 1272).attr("height", 4).attr("fill", "#727272");
hline(svg, 118, 1390, 650, "#8a8a8a", 1.6);

// ---------- gene track ----------
var geneG = svg.append("g");
geneG.append("rect").attr("x", 138).attr("y", 652).attr("width", 1240).attr("height", 38).attr("fill", "#f6f6f6");
vline(geneG, 138, 652, 690, "#cfcfcf", 1.2);
vline(geneG, 1378, 652, 690, "#cfcfcf", 1.2);
var geneBlue = "#2e3192";
var geneY = 671;
hline(geneG, gx(exons[0][1]), gx(exons[exons.length - 1][2]), geneY, geneBlue, 2.2);
geneG.selectAll("polyline.arrow").data(intronArrows).enter().append("polyline").attr("class", "arrow")
  .attr("points", function(d) { var x = gx(d); return [[x + 2.5, geneY - 4], [x - 1.5, geneY], [x + 2.5, geneY + 4]].join(" "); })
  .attr("fill", "none").attr("stroke", geneBlue).attr("stroke-width", 1.2);
geneG.selectAll("rect.exon").data(exons).enter().append("rect").attr("class", "exon")
  .attr("x", function(d) { return gx(d[1]); })
  .attr("width", function(d) { return Math.max(2.5, gx(d[2]) - gx(d[1])); })
  .attr("y", function(d) { return d[3] === "cds" ? 660 : 665; })
  .attr("height", function(d) { return d[3] === "cds" ? 23 : 12; })
  .attr("fill", geneBlue);
addText(geneG, 125, 683, "3\u2032", 30);
addText(geneG, 1386, 683, "5\u2032", 30);
geneG.selectAll("text.exlab").data(exonLabels).enter().append("text").attr("class", "exlab")
  .attr("x", function(d, i) { return gx(exonLabelPos[i]); })
  .attr("y", function(d) { return d === "12" ? 720 : 714; })
  .attr("text-anchor", "middle").attr("font-size", 25)
  .text(function(d) { return d; });
addText(geneG, 50, 738, "RPE65", 35, {style: "italic"});

// zoom lines from the gene model to the exon panels
var zoomLines = [
  [gx(exonLabelPos[0]), 718, 200, 785, 1.5],
  [gx(exonLabelPos[0]) + 10, 718, 767, 789, 3.5],
  [gx(exonLabelPos[3]) - 6, 718, 796, 784, 3.5],
  [gx(exonLabelPos[3]) + 14, 714, 1376, 782, 3.5]
];
svg.selectAll("line.zoom").data(zoomLines).enter().append("line").attr("class", "zoom")
  .attr("x1", function(d) { return d[0]; }).attr("y1", function(d) { return d[1]; })
  .attr("x2", function(d) { return d[2]; }).attr("y2", function(d) { return d[3]; })
  .attr("stroke", "#000").attr("stroke-width", function(d) { return d[4]; });
addText(svg, 447, 790, "Exon 14 (c.1543)", 27, {anchor: "middle"});
addText(svg, 1040, 790, "Exon 11 (c.1172)", 27, {anchor: "middle"});

// ---------- zoomed exon panels ----------
var panelRowY = d3.scaleLinear().domain([0, 14]).range([859, 1118]);
function exonPanel(cfg) {
  var bx = cfg.scale;
  var x0 = bx.range()[0], x1 = bx.range()[1];
  var g = svg.append("g");
  hline(g, x0 - 18, x1, 795, "#8c8c8c", 1.5);
  hline(g, x0 - 18, x1, 801, "#8c8c8c", 1.8);
  g.append("rect").attr("x", x0).attr("y", 802).attr("width", x1 - x0).attr("height", 378).attr("fill", "#fafafa");
  vline(g, x0 - 1, 802, 1180, "#c8c8c8", 1.5);
  var cg = g.append("g").attr("clip-path", clip(cfg.id + "clip", x0, 790, x1 - x0, 400));
  var cy = d3.scaleLinear().domain([0, cfg.covMax]).range([853, 803]);
  var n = cfg.ref.length;
  cg.selectAll("rect.cov").data(cfg.cov).enter().append("rect").attr("class", "cov")
    .attr("x", function(d, i) { return bx(i) + 0.7; }).attr("width", bx(1) - bx(0) - 1.4)
    .attr("y", function(d) { return cy(d); }).attr("height", function(d) { return cy(0) - cy(d); })
    .attr("fill", "#a9a9a9");
  var acc = 0;
  cfg.mutSplit.slice().reverse().forEach(function(s) {
    cg.append("rect").attr("x", bx(cfg.mutIdx) + 0.7).attr("width", bx(1) - bx(0) - 1.4)
      .attr("y", cy(acc + s[1])).attr("height", cy(acc) - cy(acc + s[1])).attr("fill", cfg.covColor[s[0]]);
    acc += s[1];
  });
  addText(cg, x0 + 5, 815, "[0 - " + cfg.covMax + "]", 10);
  // reads
  d3.range(14).forEach(function(r) {
    var blocks = cfg.reads[r] || [[0, n, 0]];
    blocks.forEach(function(b) {
      var xa = bx(b[0]), xb = bx(b[1]), ya = panelRowY(r), h = 15.7;
      if (b[2]) {
        cg.append("polygon").attr("points", [[xa + 6, ya], [xb, ya], [xb, ya + h], [xa + 6, ya + h], [xa, ya + h / 2]].join(" ")).attr("fill", "#c9c9c9");
      } else {
        cg.append("rect").attr("x", xa).attr("y", ya).attr("width", xb - xa).attr("height", h).attr("fill", "#c9c9c9");
      }
    });
  });
  cg.selectAll("text.mm").data(cfg.letters).enter().append("text").attr("class", "mm")
    .attr("x", function(d) { return bx(d[1] + 0.5); }).attr("y", function(d) { return panelRowY(d[0]) + 13.5; })
    .attr("text-anchor", "middle").attr("font-size", 15).attr("font-weight", "bold")
    .attr("fill", function(d) { return igvColor[d[2]]; }).text(function(d) { return d[2]; });
  hline(g, x0 - 18, x1, 1119, "#8c8c8c", 1.8);
  hline(g, x0 - 18, x1, 1125, "#8c8c8c", 1.5);
  // reference sequence and translation
  cg.selectAll("text.ref").data(cfg.ref.split("")).enter().append("text").attr("class", "ref")
    .attr("x", function(d, i) { return bx(i + 0.5); }).attr("y", 1139)
    .attr("text-anchor", "middle").attr("font-size", 16).attr("font-weight", "bold")
    .attr("fill", function(d) { return igvColor[d]; }).text(function(d) { return d; });
  cg.append("rect").attr("x", x0).attr("y", 1149).attr("width", bx(1) - x0).attr("height", 18).attr("fill", "#2c3168");
  cfg.aa.forEach(function(a, k) {
    var s = 1 + 3 * k;
    cg.append("rect").attr("x", bx(s)).attr("y", 1149).attr("width", bx(s + 3) - bx(s)).attr("height", 18)
      .attr("fill", k % 2 === 0 ? "#615ea8" : "#2c3168");
    addText(cg, bx(s + 1.5), 1164, a, 14, {anchor: "middle", fill: "#fff"});
  });
  cg.append("rect").attr("x", x0).attr("y", 1167).attr("width", x1 - x0).attr("height", 13).attr("fill", "#f1f1f1");
  // complementary strand, codons
  var comp = cfg.comp.split("");
  g.selectAll("text.comp").data(comp).enter().append("text").attr("class", "comp")
    .attr("x", function(d, i) { return bx(3 + i + 0.5); }).attr("y", 1204)
    .attr("text-anchor", "middle").attr("font-size", 27).attr("font-weight", "bold")
    .style("font-family", "'DejaVu Serif', serif").text(function(d) { return d; });
  cfg.aaNames.forEach(function(a, k) {
    var s = 4 + 3 * k;
    var ua = bx(s + cfg.lineOff[0]), ub = bx(s + cfg.lineOff[1]);
    g.append("rect").attr("x", ua).attr("y", 1216).attr("width", ub - ua).attr("height", 4).attr("fill", "#000");
    addText(g, (ua + ub) / 2, 1252, a, 30, {anchor: "middle"});
    addText(g, (ua + ub) / 2, 1292, cfg.codons[k], 30, {anchor: "middle"});
  });
  addText(g, bx(cfg.hgvsAt), 1334, cfg.hgvs, 30, {anchor: "middle"});
  return g;
}
var exon14Scale = d3.scaleLinear().domain([0, 18.5]).range([200, 773]);
var exon11Scale = d3.scaleLinear().domain([0, 19]).range([799, 1384]);
exonPanel({id: "ex14", scale: exon14Scale, ref: exon14Ref, aa: exon14AA, cov: exon14Cov, covMax: 84,
  mutIdx: exon14MutIdx, mutSplit: exon14MutSplit, covColor: {G: "#d86c10", A: "#0a9440"},
  reads: exon14Reads, letters: exon14Letters, comp: exon14Comp, aaNames: exon14AANames, codons: exon14Codons,
  lineOff: [0.55, 3.0], hgvs: exon14Hgvs, hgvsAt: 8.45});
var ex11Reads = [];
ex11Reads[9] = [[2.0, 19, 0]];
ex11Reads[10] = [[0, 6.06, 0], [8.87, 19, 1]];
var p11 = exonPanel({id: "ex11", scale: exon11Scale, ref: exon11Ref, aa: exon11AA, cov: exon11Cov, covMax: 68,
  mutIdx: exon11MutIdx, mutSplit: exon11MutSplit, covColor: {T: "#e0232b", G: "#d86c10"},
  reads: ex11Reads, letters: exon11Letters, comp: exon11Comp, aaNames: exon11AANames, codons: exon11Codons,
  lineOff: [0.2, 2.7], hgvs: exon11Hgvs, hgvsAt: 8.2});
addText(p11, 1226, 1292, "Codon", 30);

// track labels
addText(svg, 116, 820, "Coverage", 25, {anchor: "middle"});
addText(svg, 118, 848, "track", 25, {anchor: "middle"});
addText(svg, 114, 990, "Alignment", 25, {anchor: "middle"});
addText(svg, 115, 1020, "track", 25, {anchor: "middle"});
addText(svg, 44, 1143, "Reference", 26);
addText(svg, 46, 1172, "sequence", 26);
addText(svg, 42, 1204, "(NM_000329.3)", 26);

// ---------- Sanger sequencing ----------
function codonHeader(strip, nums, aa, alt, yNum, yAlt, yAA, yLine) {
  nums.forEach(function(s, k) {
    var c = strip(3 * k + 1.5);
    addText(svg, c, yNum, s, 40, {anchor: "middle"});
    addText(svg, c + 3, yAA, aa[k], 41, {anchor: "middle"});
    svg.append("rect").attr("x", strip(3 * k) + 14).attr("y", yLine - 1.5).attr("width", strip(3) - strip(0) - 26)
      .attr("height", 3.5).attr("fill", "#000");
  });
  if (alt) addText(svg, strip(4.5), yAlt, alt, 41, {anchor: "middle"});
}
function seqStrip(strip, bases, under, y, shades, tick, tickPos, tickY) {
  var g = svg.append("g");
  var x0 = strip.range()[0], x1 = strip.range()[1];
  shades.forEach(function(c, k) {
    g.append("rect").attr("x", strip(3 * k)).attr("y", y).attr("width", strip(3) - strip(0)).attr("height", 20).attr("fill", c);
  });
  g.append("rect").attr("x", x0).attr("y", y).attr("width", 7).attr("height", 20).attr("fill", "#d9d9d9");
  hline(g, x0, x1, y + 20.5, "#a8a8a8", 1.5);
  bases.split("").forEach(function(b, i) {
    var cxp = strip(i + 0.5);
    if (b === "N") {
      g.append("rect").attr("x", cxp - 6.5).attr("y", y + 1).attr("width", 13).attr("height", 19).attr("fill", "#e2401f");
      addText(g, cxp, y + 16, "N", 17, {anchor: "middle", weight: "bold", fill: "#fff", family: "'Liberation Mono', monospace"});
    } else {
      addText(g, cxp, y + 16, b, 17, {anchor: "middle", weight: "bold", fill: sangerColor[b], family: "'Liberation Mono', monospace"});
    }
    if (under[i]) addText(g, cxp, y + 33, under[i], 14, {anchor: "middle", fill: "#9a9a9a", family: "'Liberation Mono', monospace"});
  });
  if (tick) addText(g, strip(tickPos), tickY, tick, 12, {anchor: "middle", fill: "#9a9a9a"});
  return g;
}
function chromatogram(traces, x0, x1, base, maxSig) {
  var xs = d3.scaleLinear().domain([0, 9]).range([x0, x1]);
  var ys = d3.scaleLinear().domain([0, maxSig]).range([base, base - maxSig]);
  var line = d3.line().x(function(d) { return xs(d[0]); }).y(function(d) { return ys(d[1]); })
    .curve(d3.curveMonotoneX);
  var g = svg.append("g");
  g.append("rect").attr("x", x0).attr("y", base + 1).attr("width", x1 - x0).attr("height", 5).attr("fill", "#dedede");
  traces.forEach(function(t) {
    g.append("path").datum(t[1]).attr("d", line).attr("fill", "none")
      .attr("stroke", sangerColor[t[0]]).attr("stroke-width", 1.7).attr("stroke-linejoin", "round");
  });
  return {g: g, xs: xs, ys: ys};
}

// c.1172 (codon 391) reference strip
var strip391 = d3.scaleLinear().domain([0, 9]).range([298, 633]);
codonHeader(strip391, c391Nums, c391AA, c391Alt, 1442, 1495, 1540, 1556);
seqStrip(strip391, c391Strip, c391Under, 1571, ["#e6e6e6", "#f4f4f4", "#e8e8e8"], "50", 6.35, 1619);
addText(svg, strip391(4.5), 1632, c391Alleles[0], 28, {anchor: "middle"});
addText(svg, strip391(4.5), 1671, c391Alleles[1], 28, {anchor: "middle", fill: sangerColor.C});

// c.1543 (codon 515) reference strip
var strip515 = d3.scaleLinear().domain([0, 9]).range([871, 1203]);
codonHeader(strip515, c515Nums, c515AA, c515Alt, 1443, 1495, 1542, 1556);
seqStrip(strip515, c515Strip, c515Under, 1567, ["#efefef", "#e6e6e6", "#f0f0f0"], "80", 7.5, 1616);
addText(svg, strip515(3.5), 1624, c515Alleles[0], 30, {anchor: "middle", weight: "bold", fill: sangerColor.T, family: "'Liberation Mono', monospace"});
addText(svg, strip515(3.5), 1658, c515Alleles[1], 30, {anchor: "middle", fill: sangerColor.C, family: "'Liberation Mono', monospace"});

// family labels
["Patient", "(JU2139)", "and", "Mother"].forEach(function(s, i) {
  addText(svg, 243, 1713 + i * 41.5, s, 35, {anchor: "middle"});
});
["Patient", "(JU2139)", "and", "Father"].forEach(function(s, i) {
  addText(svg, 808, 1713 + i * 41.5, s, 35, {anchor: "middle"});
});

// patient + mother chromatogram (codon 391)
chromatogram([["G", motherG], ["A", motherA], ["C", motherC], ["T", motherT]], 298, 635, 1957, 150);
var stripM = d3.scaleLinear().domain([0, 9]).range([298, 635]);
codonHeader(stripM, ["", "", ""], c391AA, null, 0, 0, 2005, 2020);
seqStrip(stripM, motherStrip, motherUnder, 2036, ["#ececec", "#e2e2e2", "#eeeeee"], "150", 5.55, 2084);

// patient + father chromatogram (codon 515)
var fc = chromatogram([["A", fatherA], ["G", fatherG], ["C", fatherC], ["T", fatherT]], 871, 1205, 1956, 263);
vline(fc.g, fc.xs(fatherCursor[0]), fc.ys(0), fc.ys(fatherCursor[1]), "#111", 1.8);
var stripF = d3.scaleLinear().domain([0, 9]).range([871, 1205]);
codonHeader(stripF, ["", "", ""], c515AA, null, 0, 0, 2003, 2017);
seqStrip(stripF, fatherStrip, fatherUnder, 2030, ["#e8e8e8", "#f2f2f2", "#e8e8e8"], "130", 6.5, 2079);

// controls
addText(svg, 180, 2193, "Control", 35);
addText(svg, 744, 2190, "Control", 35);
chromatogram([["G", controlLG], ["A", controlLA], ["T", controlLT], ["C", controlLC]], 299, 638, 2422, 205);
chromatogram([["A", controlRA], ["T", controlRT], ["C", controlRC], ["G", controlRG]], 879, 1216, 2419, 126);
</script>
</body>
</html>
